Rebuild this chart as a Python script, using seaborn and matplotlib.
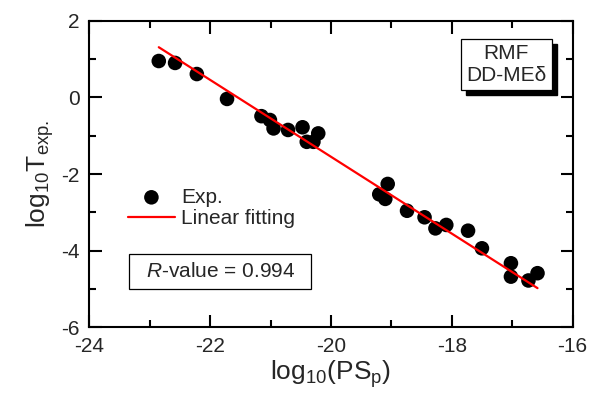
import numpy as np
import pandas as pd
import matplotlib
matplotlib.use("Agg")
import matplotlib.pyplot as plt
from matplotlib.ticker import MultipleLocator
from matplotlib.patches import Rectangle
import seaborn as sns

# values
log_ps = [-22.85, -22.58, -22.22, -21.72, -21.15, -21.01, -20.95, -20.71,
          -20.47, -20.40, -20.29, -20.21, -19.06, -19.20, -19.10, -18.74,
          -18.45, -18.27, -18.09, -17.73, -17.50, -17.02, -17.02, -16.73,
          -16.58]
log_t = [0.95, 0.90, 0.61, -0.04, -0.49, -0.59, -0.81, -0.85,
         -0.78, -1.16, -1.16, -0.94, -2.26, -2.53, -2.65, -2.96,
         -3.13, -3.42, -3.33, -3.48, -3.94, -4.33, -4.68, -4.78,
         -4.59]
fit_x = [-22.85, -16.58]
fit_y = [1.31, -4.98]
r_value = 0.994

df = pd.DataFrame({"x": log_ps, "y": log_t})
fit = pd.DataFrame({"x": fit_x, "y": fit_y})

sns.set_style("ticks")
plt.rcParams["font.family"] = ["Liberation Sans", "DejaVu Sans"]
plt.rcParams["axes.unicode_minus"] = False
plt.rcParams["mathtext.fontset"] = "custom"
plt.rcParams["mathtext.rm"] = "Liberation Sans"
plt.rcParams["mathtext.it"] = "Liberation Sans:italic"

fig = plt.figure(figsize=(6.13, 4.0), dpi=100)
ax = fig.add_axes([0.1457, 0.182, 0.7883, 0.766])

sns.scatterplot(data=df, x="x", y="y", ax=ax, color="black", s=110,
                edgecolor="none", label="Exp.", zorder=3)
sns.lineplot(data=fit, x="x", y="y", ax=ax, color="red", linewidth=1.6,
             label="Linear fitting", zorder=4)

ax.set_xlim(-24, -16)
ax.set_ylim(-6, 2)
ax.xaxis.set_major_locator(MultipleLocator(2))
ax.xaxis.set_minor_locator(MultipleLocator(1))
ax.yaxis.set_major_locator(MultipleLocator(2))
ax.yaxis.set_minor_locator(MultipleLocator(1))
ax.tick_params(which="both", direction="in", top=True, right=True,
               width=1.5, labelsize=15, color="black")
ax.tick_params(which="major", length=9, pad=7)
ax.tick_params(which="minor", length=5)
for sp in ax.spines.values():
    sp.set_linewidth(1.5)
    sp.set_color("black")

ax.set_xlabel(r"log$_{10}$(PS$_{\rm p}$)", fontsize=19, labelpad=2)
ax.set_ylabel(r"log$_{10}$T$_{\rm exp.}$", fontsize=19, labelpad=4)

ax.legend(loc="upper left", bbox_to_anchor=(0.080, 0.455), frameon=False,
          fontsize=15, handlelength=2.25, handletextpad=0.3,
          borderaxespad=0, borderpad=0, labelspacing=0.12)

# R-value box
ax.add_patch(Rectangle((0.0825, 0.125), 0.3765, 0.114, transform=ax.transAxes,
                       facecolor="white", edgecolor="black", linewidth=0.9,
                       zorder=5))
ax.text(0.271, 0.182, r"$\it{R}$-value = %.3f" % r_value, transform=ax.transAxes,
        fontsize=15, ha="center", va="center", zorder=6)

# model-name box with a drop shadow
lbl = ax.text(0.946, 0.925, "RMF\nDD-ME\u03b4", transform=ax.transAxes,
              fontsize=15, ha="right", va="top", multialignment="center",
              linespacing=1.2, zorder=7,
              bbox=dict(boxstyle="square,pad=0.25", facecolor="white",
                        edgecolor="black", linewidth=0.9))
fig.canvas.draw()
ext = lbl.get_bbox_patch().get_window_extent(fig.canvas.get_renderer())
inv = ax.transAxes.inverted()
(x0, y0), (x1, y1) = inv.transform([[ext.x0 + 5, ext.y0 - 5],
                                    [ext.x1 + 5, ext.y1 - 5]])
ax.add_patch(Rectangle((x0, y0), x1 - x0, y1 - y0, transform=ax.transAxes,
                       facecolor="black", edgecolor="black", zorder=6))

fig.savefig("out.png", dpi=100)
